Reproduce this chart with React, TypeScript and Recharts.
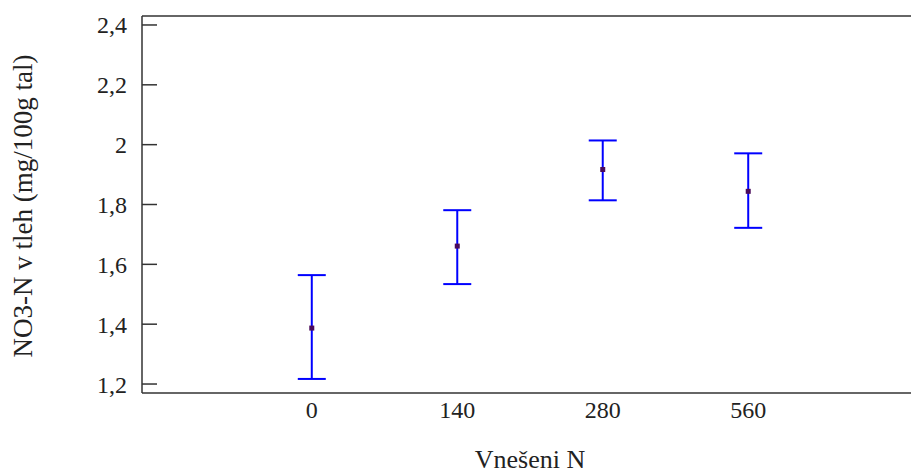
import React from 'react';
import {
  ComposedChart,
  Scatter,
  ErrorBar,
  XAxis,
  YAxis,
  ReferenceLine,
  Label,
} from 'recharts';

const categories = ['0', '140', '280', '560'];
const means = [1.387, 1.661, 1.917, 1.844];
const lowers = [1.217, 1.534, 1.814, 1.722];
const uppers = [1.564, 1.781, 2.014, 1.971];
const yTicks = [1.2, 1.4, 1.6, 1.8, 2.0, 2.2, 2.4];

const data = categories.map((c, i) => ({
  idx: i,
  cat: c,
  mean: means[i],
  err: [means[i] - lowers[i], uppers[i] - means[i]],
}));

const FONT = '"Liberation Serif", "Times New Roman", serif';
const AXIS = '#333';

const fmt = (v: number) => String(Math.round(v * 10) / 10).replace('.', ',');

const Marker = (props: any) => {
  const { cx, cy } = props;
  if (cx == null || cy == null) return null;
  return <rect x={cx - 2.5} y={cy - 2.5} width={5} height={5} fill="#4a0a5a" />;
};

const NoMarker = () => null;

export default function App() {
  return (
    <div
      style={{
        position: 'absolute',
        left: 0,
        top: 0,
        width: 911,
        height: 475,
        overflow: 'hidden',
        background: '#fff',
      }}
    >
      <ComposedChart
        width={930}
        height={475}
        data={data}
        margin={{ top: 16, right: 12, bottom: 0, left: 0 }}
      >
        <XAxis
          type="number"
          dataKey="idx"
          domain={[-1.167, 4.167]}
          ticks={[0, 1, 2, 3]}
          tickFormatter={(v: number) => categories[v] ?? ''}
          tickLine={false}
          height={82}
          axisLine={{ stroke: AXIS, strokeWidth: 1.5 }}
          tick={{ fontFamily: FONT, fontSize: 24, fill: '#222' }}
          allowDataOverflow
        >
          <Label
            content={() => (
              <text
                x={530}
                y={468}
                textAnchor="middle"
                fontFamily={FONT}
                fontSize={26}
                fill="#222"
              >
                Vnešeni N
              </text>
            )}
          />
        </XAxis>
        <YAxis
          yAxisId="left"
          type="number"
          domain={[1.17, 2.43]}
          ticks={yTicks}
          tickFormatter={fmt}
          width={142}
          tickSize={-15}
          tickMargin={30}
          allowDataOverflow
          axisLine={{ stroke: AXIS, strokeWidth: 1.5 }}
          tickLine={{ stroke: AXIS, strokeWidth: 1.5 }}
          tick={{ fontFamily: FONT, fontSize: 24, fill: '#222' }}
        >
          <Label
            content={() => (
              <text
                x={23}
                y={206}
                transform="rotate(-90, 23, 206)"
                textAnchor="middle"
                dominantBaseline="central"
                fontFamily={FONT}
                fontSize={27}
                fill="#222"
              >
                NO3-N v tleh (mg/100g tal)
              </text>
            )}
          />
        </YAxis>
        <YAxis
          yAxisId="right"
          orientation="right"
          type="number"
          domain={[1.17, 2.43]}
          ticks={yTicks}
          tickFormatter={() => ''}
          width={0}
          tickSize={-15}
          allowDataOverflow
          axisLine={{ stroke: AXIS, strokeWidth: 1.5 }}
          tickLine={{ stroke: AXIS, strokeWidth: 1.5 }}
        />
        <ReferenceLine
          yAxisId="left"
          y={2.43}
          stroke={AXIS}
          strokeWidth={1.5}
          ifOverflow="visible"
        />
        <Scatter
          yAxisId="left"
          dataKey="mean"
          isAnimationActive={false}
          shape={<NoMarker />}
          fill="#0000ff"
        >
          <ErrorBar
            dataKey="err"
            direction="y"
            width={14}
            stroke="#0000ff"
            strokeWidth={2}
            isAnimationActive={false}
          />
        </Scatter>
        <Scatter
          yAxisId="left"
          dataKey="mean"
          isAnimationActive={false}
          shape={<Marker />}
          fill="#4a0a5a"
        />
      </ComposedChart>
    </div>
  );
}
